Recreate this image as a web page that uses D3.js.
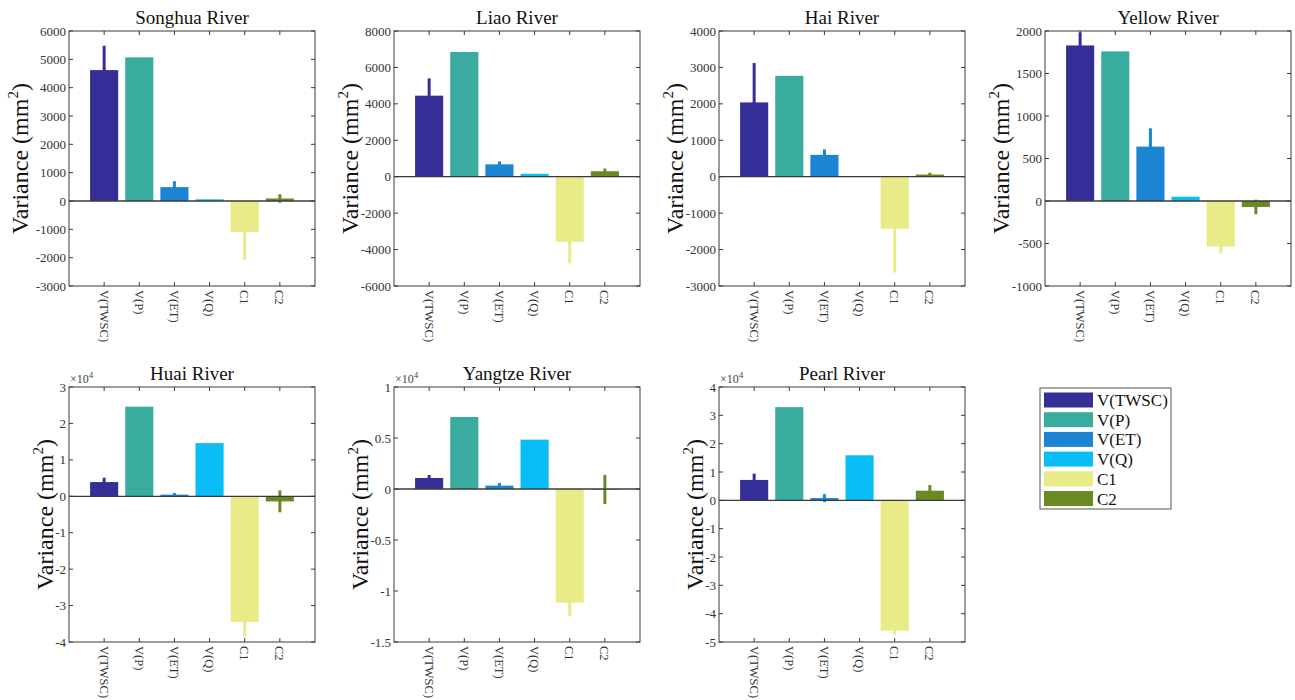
<html>
<head>
<script src="https://d3js.org/d3.v7.min.js"></script>
<style>
  body { margin: 0; background: #fff; }
</style>
</head>
<body>
<svg width="1295" height="700" font-family="'Liberation Serif', 'Times New Roman', 'DejaVu Serif', serif"></svg>
<script>
const categories = ['V(TWSC)', 'V(P)', 'V(ET)', 'V(Q)', 'C1', 'C2'];
const colors = ['#352e96', '#3aab9f', '#1b85d3', '#0bbdf7', '#e9ea88', '#6a8923'];
const rivers = ['Songhua River', 'Liao River', 'Hai River', 'Yellow River', 'Huai River', 'Yangtze River', 'Pearl River'];

// variance (mm^2) and error half-widths
const songhua = [4620, 5070, 490, 60, -1095, 90];
const songhuaErr = [860, 0, 210, 0, 990, 150];
const liao = [4450, 6850, 680, 160, -3570, 300];
const liaoErr = [950, 0, 160, 0, 1190, 150];
const hai = [2040, 2770, 600, 10, -1430, 60];
const haiErr = [1080, 0, 150, 0, 1200, 50];
const yellow = [1830, 1760, 640, 50, -535, -70];
const yellowErr = [155, 0, 215, 0, 80, 85];
const huai = [3900, 24600, 450, 14600, -34500, -1400];
const huaiErr = [1200, 0, 450, 0, 4000, 3000];
const yangtze = [1080, 7060, 330, 4840, -11140, -50];
const yangtzeErr = [290, 0, 260, 0, 1340, 1430];
const pearl = [7200, 32900, 800, 15900, -46000, 3400];
const pearlErr = [2200, 0, 1400, 0, 1400, 2000];

const yLimits = [[-3000, 6000], [-6000, 8000], [-3000, 4000], [-1000, 2000],
                 [-40000, 30000], [-15000, 10000], [-50000, 40000]];
const yStep = [1000, 2000, 1000, 500, 10000, 5000, 10000];
const yExponent = [0, 0, 0, 0, 4, 4, 4];

const allVals = [songhua, liao, hai, yellow, huai, yangtze, pearl];
const allErr = [songhuaErr, liaoErr, haiErr, yellowErr, huaiErr, yangtzeErr, pearlErr];

// layout
const panelLeft = [69, 394, 719, 1045, 69, 394, 719];
const panelTop = [31, 31, 31, 31, 387, 387, 387];
const panelW = 246, panelH = 255;
const labelGap = [41, 36, 36, 36, 16, 26, 16];
const serif = "'Liberation Serif', 'Times New Roman', 'DejaVu Serif', serif";

const svg = d3.select('svg');

rivers.forEach((name, p) => {
    const left = panelLeft[p], top = panelTop[p];
    const g = svg.append('g').attr('font-family', serif);
    const x = d3.scaleLinear().domain([0, 7]).range([left, left + panelW]);
    const y = d3.scaleLinear().domain(yLimits[p]).range([top + panelH, top]);
    const bw = 0.8 * (x(1) - x(0));
    const data = categories.map((c, i) => ({c: c, i: i, v: allVals[p][i], e: allErr[p][i]}));

    // bars
    g.selectAll('rect.bar').data(data).join('rect')
        .attr('class', 'bar')
        .attr('x', d => x(d.i + 1) - bw / 2)
        .attr('width', bw)
        .attr('y', d => y(Math.max(0, d.v)))
        .attr('height', d => Math.abs(y(d.v) - y(0)))
        .attr('fill', d => colors[d.i]);

    // error bars
    g.selectAll('line.err').data(data.filter(d => d.e > 0)).join('line')
        .attr('class', 'err')
        .attr('x1', d => x(d.i + 1)).attr('x2', d => x(d.i + 1))
        .attr('y1', d => y(d.v - d.e)).attr('y2', d => y(d.v + d.e))
        .attr('stroke', d => colors[d.i])
        .attr('stroke-width', 3);

    // baseline
    g.append('line')
        .attr('x1', left).attr('x2', left + panelW)
        .attr('y1', y(0)).attr('y2', y(0))
        .attr('stroke', '#3a3a3a').attr('stroke-width', 1.3);

    // box
    g.append('rect')
        .attr('x', left).attr('y', top).attr('width', panelW).attr('height', panelH)
        .attr('fill', 'none').attr('stroke', '#3a3a3a').attr('stroke-width', 1);

    // y ticks
    const [lo, hi] = yLimits[p];
    const ticks = d3.range(lo, hi + yStep[p] / 2, yStep[p]);
    const scale = Math.pow(10, yExponent[p]);
    ticks.forEach(t => {
        g.append('line').attr('x1', left).attr('x2', left + 4)
            .attr('y1', y(t)).attr('y2', y(t)).attr('stroke', '#3a3a3a');
        g.append('line').attr('x1', left + panelW - 4).attr('x2', left + panelW)
            .attr('y1', y(t)).attr('y2', y(t)).attr('stroke', '#3a3a3a');
        g.append('text')
            .attr('x', left - 3).attr('y', y(t)).attr('dy', '0.35em')
            .attr('text-anchor', 'end')
            .attr('font-size', 13).attr('fill', '#333')
            .text(+(t / scale).toFixed(2));
    });

    // x ticks + labels
    data.forEach(d => {
        g.append('line').attr('x1', x(d.i + 1)).attr('x2', x(d.i + 1))
            .attr('y1', top + panelH).attr('y2', top + panelH - 4).attr('stroke', '#3a3a3a');
        g.append('line').attr('x1', x(d.i + 1)).attr('x2', x(d.i + 1))
            .attr('y1', top).attr('y2', top + 4).attr('stroke', '#3a3a3a');
        g.append('text')
            .attr('transform', `translate(${x(d.i + 1)},${top + panelH + 4}) rotate(90)`)
            .attr('dy', '0.35em')
            .attr('font-size', 12.5).attr('fill', '#333')
            .text(d.c);
    });

    // exponent
    if (yExponent[p]) {
        const ex = g.append('text')
            .attr('x', left + 1).attr('y', top - 4)
            .attr('font-size', 12).attr('fill', '#444');
        ex.append('tspan').text('\u00d710');
        ex.append('tspan').attr('dy', -5).attr('font-size', 9).text(yExponent[p]);
    }

    // title
    g.append('text')
        .attr('x', left + panelW / 2).attr('y', top - 7)
        .attr('text-anchor', 'middle')
        .attr('font-size', 19).attr('fill', '#111')
        .text(name);

    // y label
    const lx = left - labelGap[p], ly = top + panelH / 2;
    const lab = g.append('text')
        .attr('transform', `translate(${lx},${ly}) rotate(-90)`)
        .attr('text-anchor', 'middle')
        .attr('font-size', 24).attr('fill', '#111');
    lab.append('tspan').text('Variance (mm');
    lab.append('tspan').attr('dy', -10).attr('font-size', 15).text('2');
    lab.append('tspan').attr('dy', 10).text(')');
});

// legend
const legend = svg.append('g').attr('font-family', serif);
legend.append('rect')
    .attr('x', 1040).attr('y', 388).attr('width', 131).attr('height', 121)
    .attr('fill', '#fff').attr('stroke', '#555').attr('stroke-width', 1);
categories.forEach((c, i) => {
    const cy = 400 + i * 19.7;
    legend.append('rect')
        .attr('x', 1044).attr('y', cy - 7.5).attr('width', 49).attr('height', 15)
        .attr('fill', colors[i]);
    legend.append('text')
        .attr('x', 1097).attr('y', cy + 6)
        .attr('font-size', 17).attr('fill', '#111')
        .text(c);
});
</script>
</body>
</html>
